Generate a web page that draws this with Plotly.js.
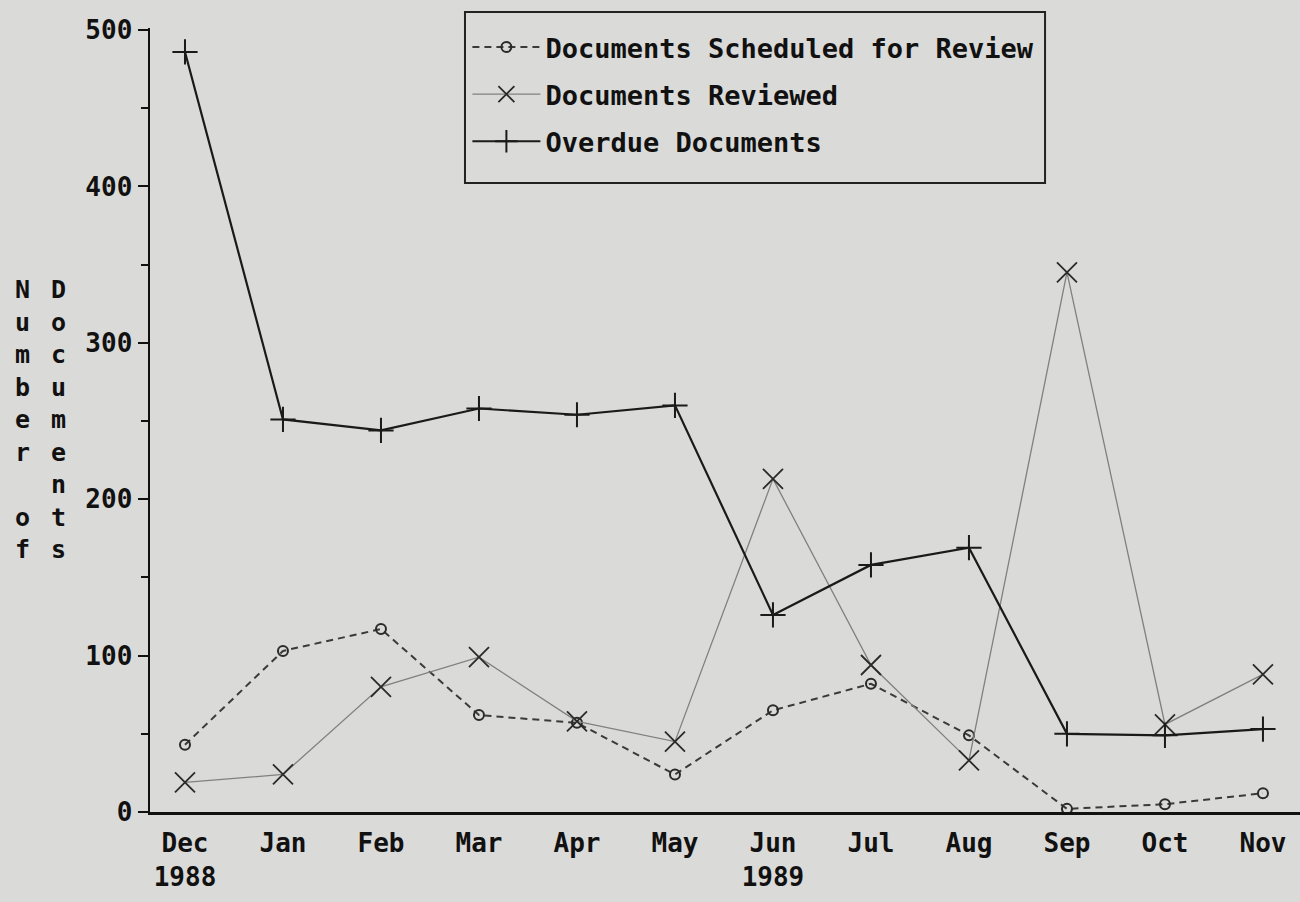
<!DOCTYPE html>
<html>
<head>
<meta charset="utf-8">
<script src="https://cdn.plot.ly/plotly-3.0.1.min.js"></script>
<style>html,body{margin:0;padding:0;background:#dadad8;}#chart{width:1300px;height:902px;}</style>
</head>
<body>
<div id="chart"></div>
<script>
const categories = ['Dec<br>1988','Jan','Feb','Mar','Apr','May','Jun<br>1989','Jul','Aug','Sep','Oct','Nov'];
const scheduled = [43, 103, 117, 62, 57, 24, 65, 82, 49, 2, 5, 12];
const reviewed  = [19, 24, 80, 99, 58, 45, 213, 94, 33, 345, 56, 88];
const overdue   = [486, 251, 244, 258, 254, 260, 126, 158, 169, 50, 49, 53];
const yTicks = [0, 100, 200, 300, 400, 500];

const FONT = 'DejaVu Sans Mono, monospace';
const BG = '#dadad8';

const traces = [
  {x: categories, y: scheduled, name: 'Documents Scheduled for Review', mode: 'lines+markers',
   legendgroup: 'a',
   line: {color: '#3a3a3a', width: 2, dash: '7px,5px'},
   marker: {symbol: 'circle-open', size: 10, color: '#2a2a2a', line: {width: 2, color: '#2a2a2a'}}},
  {x: categories, y: reviewed, name: 'Documents Reviewed', mode: 'lines+markers',
   legendgroup: 'b',
   line: {color: '#808080', width: 1.3},
   marker: {symbol: 'x-thin-open', size: 20, color: '#2a2a2a', line: {width: 1.8, color: '#2a2a2a'}}},
  {x: categories, y: overdue, name: 'Overdue Documents', mode: 'lines+markers',
   legendgroup: 'c',
   line: {color: '#1a1a1a', width: 2.2},
   marker: {symbol: 'cross-thin-open', size: 18, color: '#1a1a1a', line: {width: 2, color: '#1a1a1a'}}}
];

const layout = {
  width: 1300, height: 902,
  paper_bgcolor: BG, plot_bgcolor: BG,
  margin: {l: 150, r: 0, t: 28, b: 90},
  showlegend: true,
  legend: {
    x: 0.276, y: 1.0064, xanchor: 'left', yanchor: 'top',
    bgcolor: 'rgba(0,0,0,0)', borderwidth: 0,
    font: {family: FONT, size: 27, color: '#111', weight: 'bold'},
    tracegroupgap: 9, traceorder: 'grouped', itemwidth: 68
  },
  shapes: [
    {type: 'rect', xref: 'paper', yref: 'paper', x0: 0.2739, x1: 0.7783, y0: 0.8023, y1: 1.0204,
     line: {color: '#222', width: 2}, fillcolor: BG, layer: 'below'}
  ],
  xaxis: {
    type: 'category', range: [-0.357, 11.378],
    showgrid: false, zeroline: false,
    showline: true, linecolor: '#111', linewidth: 2.5,
    ticks: '', ticklabelstandoff: 6,
    tickfont: {family: FONT, size: 26, color: '#111', weight: 'bold'}
  },
  yaxis: {
    range: [0, 501.3], showgrid: false, zeroline: false,
    showline: true, linecolor: '#111', linewidth: 2.5,
    tickvals: yTicks, ticks: 'outside', ticklen: 10, tickwidth: 2, tickcolor: '#111',
    tickfont: {family: FONT, size: 26, color: '#111', weight: 'bold'},
    minor: {dtick: 50, ticks: 'outside', ticklen: 7, tickwidth: 2, tickcolor: '#111', showgrid: false}
  },
  annotations: [
    {text: 'N<br>u<br>m<br>b<br>e<br>r<br>\u00a0<br>o<br>f', xref: 'paper', yref: 'paper', x: 0, y: 0,
     xanchor: 'center', yanchor: 'middle', xshift: -128, yshift: 393, showarrow: false,
     font: {family: FONT, size: 25, color: '#111', weight: 'bold'}},
    {text: 'D<br>o<br>c<br>u<br>m<br>e<br>n<br>t<br>s', xref: 'paper', yref: 'paper', x: 0, y: 0,
     xanchor: 'center', yanchor: 'middle', xshift: -92, yshift: 393, showarrow: false,
     font: {family: FONT, size: 25, color: '#111', weight: 'bold'}}
  ]
};

Plotly.newPlot('chart', traces, layout, {displayModeBar: false, staticPlot: true});
</script>
</body>
</html>
